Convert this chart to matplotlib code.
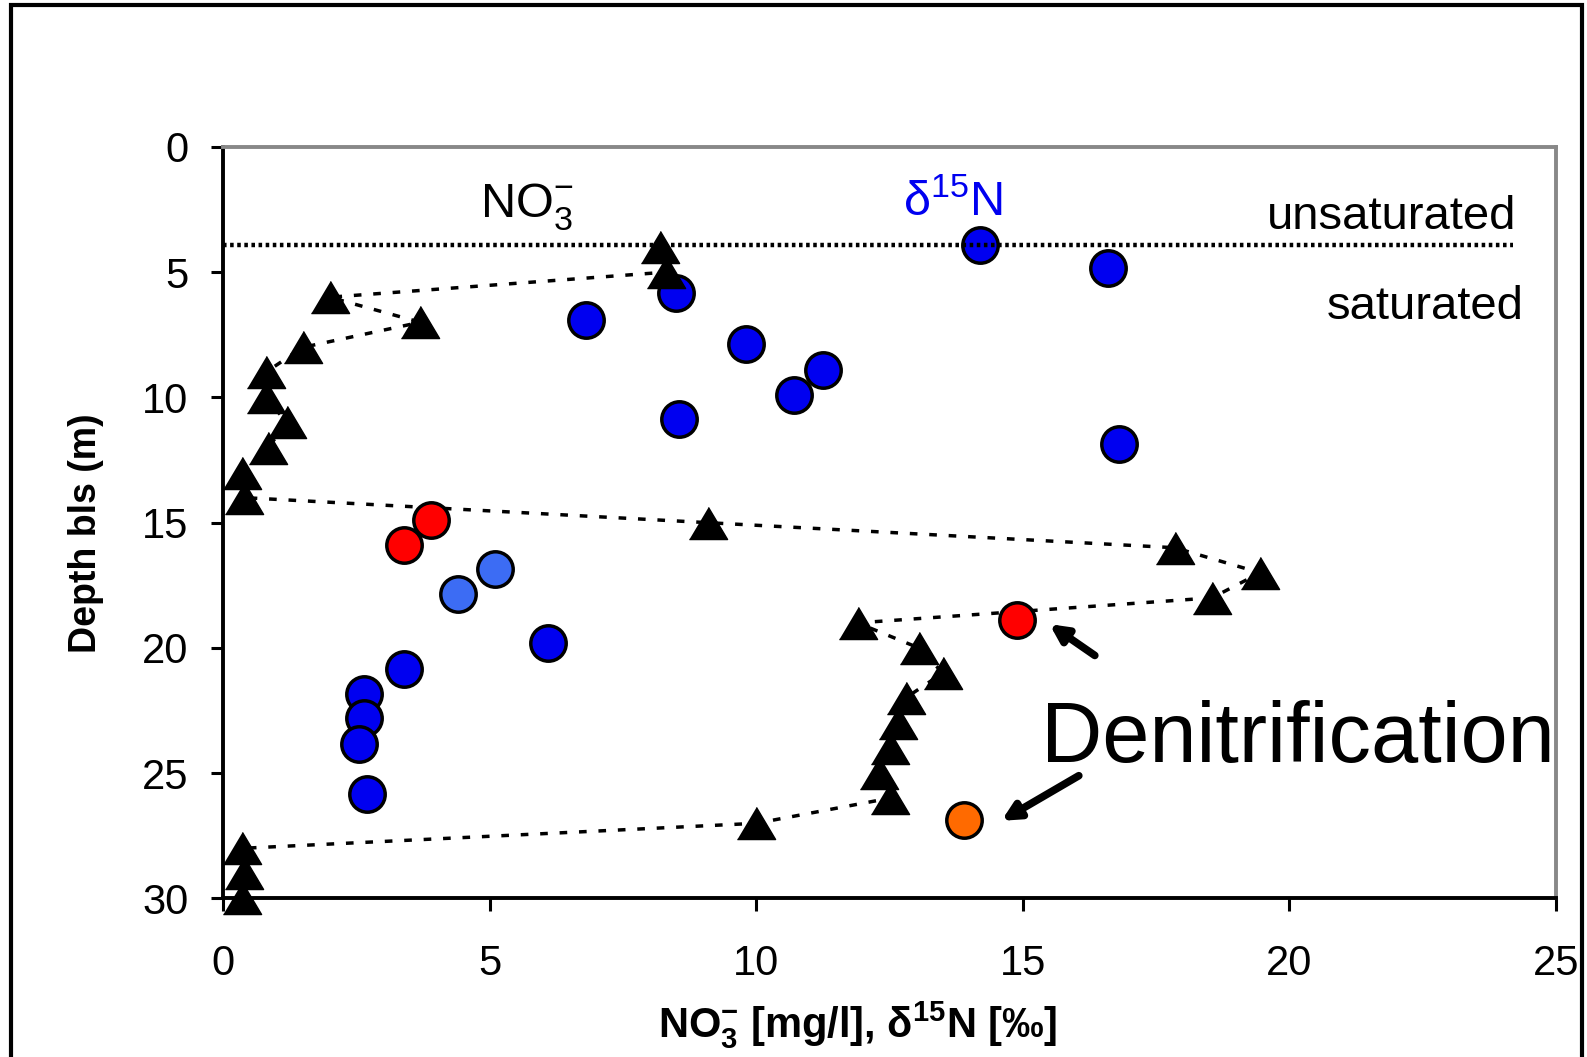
import numpy as np
import matplotlib.pyplot as plt
from matplotlib.patches import Rectangle

plt.rcParams['font.family'] = ['Liberation Sans', 'DejaVu Sans']
plt.rcParams['mathtext.default'] = 'regular'

# NO3- profile (triangles, dashed line)
no3_conc = [8.2, 8.3, 2.0, 3.7, 1.5, 0.8, 0.8, 1.2, 0.85, 0.35, 0.4, 9.1, 17.85, 19.45,
            18.55, 11.9, 13.05, 13.5, 12.8, 12.65, 12.5, 12.3, 12.5, 10.0, 0.35, 0.4, 0.35]
no3_depth = [4, 5, 6, 7, 8, 9, 10, 11, 12, 13, 14, 15, 16, 17,
             18, 19, 20, 21, 22, 23, 24, 25, 26, 27, 28, 29, 30]

# d15N (circles)
d15n_val = [14.2, 16.6, 8.5, 6.8, 9.8, 11.25, 10.7, 8.55, 16.8, 3.9, 3.4, 5.1, 4.4,
            14.9, 6.1, 3.4, 2.65, 2.65, 2.55, 2.7, 13.9]
d15n_depth = [3.9, 4.85, 5.85, 6.9, 7.85, 8.9, 9.9, 10.85, 11.85, 14.9, 15.9, 16.85, 17.85,
              18.9, 19.8, 20.85, 21.85, 22.8, 23.85, 25.85, 26.85]
d15n_kind = ['b', 'b', 'b', 'b', 'b', 'b', 'b', 'b', 'b', 'r', 'r', 'lb', 'lb',
             'r', 'b', 'b', 'b', 'b', 'b', 'b', 'o']
kind_colors = {'b': '#0000f0', 'lb': '#3c6cf4', 'r': '#ff0000', 'o': '#ff6a00'}

water_table = 3.9

fig = plt.figure(figsize=(15.87, 10.57), dpi=100)
ax = fig.add_axes([0.1405, 0.150, 0.8400, 0.711])

ax.plot(no3_conc, no3_depth, color='black', lw=2.5, ls=(0, (2.2, 3.4)), zorder=1,
        clip_on=False)
for v, d, k in zip(d15n_val, d15n_depth, d15n_kind):
    ax.plot(v, d, 'o', ms=25.5, mfc=kind_colors[k], mec='black', mew=2.5, zorder=2)
ax.plot([0, 24.2], [water_table, water_table], color='black', lw=3.2,
        ls=(0, (0.8, 0.8)), zorder=3)
tri = [(-1, -0.84), (1, -0.84), (0, 0.84)]
ax.plot(no3_conc, no3_depth, ls='none', marker=tri, ms=27.5, mfc='black', mec='black',
        mew=1, zorder=4, clip_on=False)

ax.set_xlim(0, 25)
ax.set_ylim(30, 0)
ax.set_xticks([0, 5, 10, 15, 20, 25])
ax.set_yticks([0, 5, 10, 15, 20, 25, 30])
ax.tick_params(axis='both', direction='out', length=9, width=2.2, labelsize=30)
ax.tick_params(axis='x', pad=24)
ax.tick_params(axis='y', pad=16)
for s in ['left', 'bottom']:
    ax.spines[s].set_linewidth(2.8)
    ax.spines[s].set_color('black')
for s in ['top', 'right']:
    ax.spines[s].set_linewidth(2.8)
    ax.spines[s].set_color('#888888')

ax.text(4.82, 2.81, 'NO$_3^{-}$', fontsize=35, ha='left', va='baseline')
ax.text(12.76, 2.75, 'δ$^{15}$N', fontsize=35, color='#0000f0', ha='left', va='baseline')
ax.text(24.26, 3.28, 'unsaturated', fontsize=34, ha='right', va='baseline')
ax.text(24.4, 6.87, 'saturated', fontsize=34, ha='right', va='baseline')
ax.text(15.34, 24.55, 'Denitrification', fontsize=61, ha='left', va='baseline')

ax.annotate('', xy=(15.5, 19.05), xytext=(16.35, 20.3),
            arrowprops=dict(arrowstyle='-|>,head_length=1.0,head_width=0.5',
                            color='black', lw=5.5, shrinkA=0, shrinkB=0))
ax.annotate('', xy=(14.6, 26.9), xytext=(16.05, 25.1),
            arrowprops=dict(arrowstyle='-|>,head_length=1.0,head_width=0.5',
                            color='black', lw=5.5, shrinkA=0, shrinkB=0))

ax.text(0.476, -0.185, 'NO$_3^{-}$ [mg/l], δ$^{15}$N [‰]', transform=ax.transAxes,
        fontsize=30, fontweight='bold', ha='center', va='baseline')
ax.text(-0.103, 0.486, 'Depth bls (m)', transform=ax.transAxes, rotation=90,
        fontsize=27, fontweight='bold', ha='center', va='center')

fig.patches.append(Rectangle((0.007, -0.02), 0.990, 1.015, transform=fig.transFigure,
                             fill=False, edgecolor='black', lw=3))

fig.savefig('out.png', dpi=100)
